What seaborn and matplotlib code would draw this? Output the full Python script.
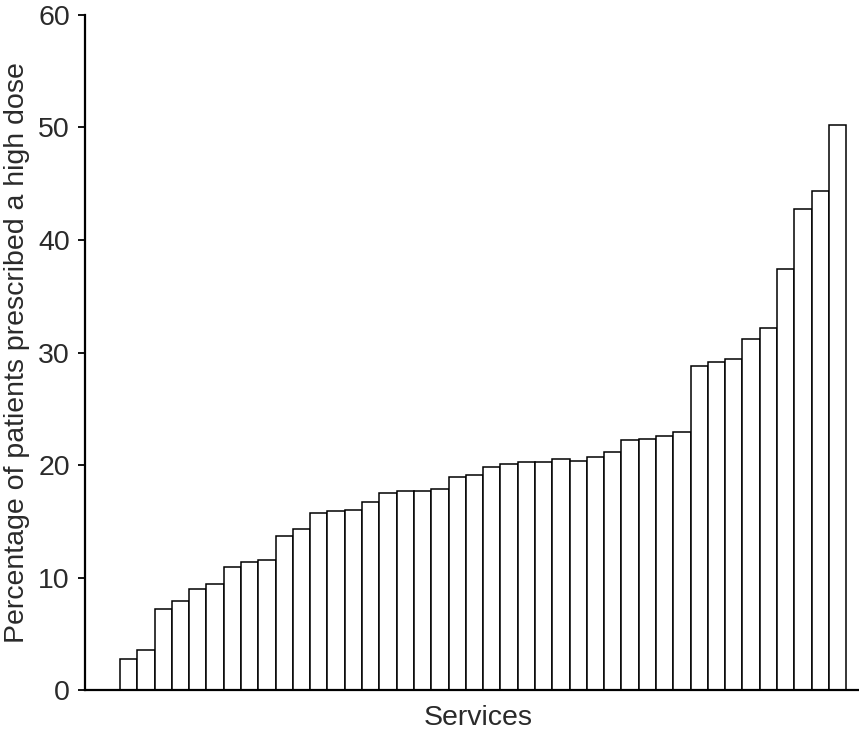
import matplotlib
matplotlib.use("Agg")
import matplotlib.pyplot as plt
import numpy as np
import pandas as pd
import seaborn as sns

# percentage of patients prescribed a high dose, one bar per service (sorted)
services = [f"S{i + 1}" for i in range(42)]
high_dose_pct = [
    2.8, 3.6, 7.2, 7.9, 9.0, 9.4, 10.9, 11.4, 11.6, 13.7,
    14.3, 15.7, 15.9, 16.0, 16.7, 17.5, 17.7, 17.7, 17.9, 18.9,
    19.1, 19.8, 20.1, 20.3, 20.3, 20.5, 20.4, 20.7, 21.2, 22.2,
    22.3, 22.6, 22.9, 28.8, 29.2, 29.4, 31.2, 32.2, 37.4, 42.8,
    44.4, 50.2,
]
y_ticks = [0, 10, 20, 30, 40, 50, 60]

df = pd.DataFrame({"service": services, "pct": high_dose_pct})

sns.set_style("ticks")
plt.rcParams["font.family"] = ["Liberation Sans", "DejaVu Sans"]
text_col = "#2a2a2a"

fig = plt.figure(figsize=(8.59, 7.35), dpi=100)
ax = fig.add_axes([0.099, 0.0612, 0.901, 0.9184])

sns.barplot(data=df, x="service", y="pct", color="white", edgecolor="black",
            linewidth=1.1, width=1.0, saturation=1, ax=ax)

ax.set_xlim(-2.52, 42.24)
ax.set_ylim(0, 60)
ax.set_yticks(y_ticks)
ax.set_xticks([])
ax.tick_params(axis="y", labelsize=20.5, length=5, width=1.3, pad=6,
               labelcolor=text_col, color="black")
ax.set_xlabel("Services", fontsize=20.5, color=text_col)
ax.xaxis.set_label_coords(0.508, -0.022, transform=ax.transAxes)
ax.xaxis.label.set_va("top")
ax.set_ylabel("Percentage of patients prescribed a high dose", fontsize=20.5,
              labelpad=6, color=text_col)
for s in ["top", "right"]:
    ax.spines[s].set_visible(False)
for s in ["left", "bottom"]:
    ax.spines[s].set_linewidth(1.6)
    ax.spines[s].set_color("black")

fig.savefig("out.png", dpi=100)
